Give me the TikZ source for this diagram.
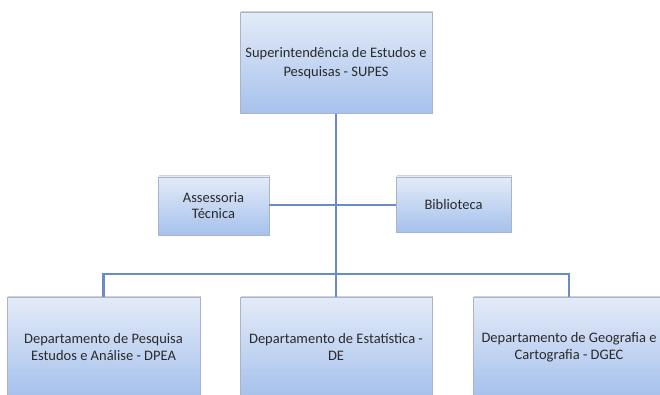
\documentclass[tikz,border=0pt]{standalone}
\usepackage{fontspec}
\setmainfont{Carlito}
\usetikzlibrary{shadows}
\definecolor{boxtop}{HTML}{E3EBF8}
\definecolor{boxbot}{HTML}{A6C1EC}
\definecolor{boxline}{HTML}{A9B4C8}
\definecolor{conn}{HTML}{6A8BC9}
\definecolor{txt}{HTML}{2A2A2A}
\tikzset{
  orgbox/.style={draw=boxline, line width=0.8pt, top color=boxtop, bottom color=boxbot,
    align=center, inner sep=2pt, text=txt, font=\fontsize{14.5}{18.5}\selectfont,
    drop shadow={opacity=0.35, shadow xshift=1.2pt, shadow yshift=1.5pt}},
  link/.style={draw=conn, line width=2.6pt}
}
\begin{document}
\begin{tikzpicture}[x=1pt,y=-1pt]
\useasboundingbox (0,0) rectangle (660,395);
\clip (0,0) rectangle (660,395);
\fill[white] (0,0) rectangle (660,395);
\coordinate (mid) at (336,205);
\coordinate (busl) at (103.5,274);
\coordinate (busr) at (569,274);
\node[orgbox, minimum width=192pt, minimum height=101pt] (supes) at (336,63) {Superintendência de Estudos e\\Pesquisas - SUPES};
\node[orgbox, minimum width=111pt, minimum height=58pt, font=\fontsize{14.5}{16}\selectfont] (asses) at (213.5,206) {Assessoria\\Técnica};
\node[orgbox, minimum width=115pt, minimum height=55pt] (bib) at (453.5,204.5) {Biblioteca};
\node[orgbox, minimum width=193pt, minimum height=100pt, font=\fontsize{14.5}{17}\selectfont] (dpea) at (103.5,347) {Departamento de Pesquisa\\Estudos e Análise - DPEA};
\node[orgbox, minimum width=192pt, minimum height=100pt, font=\fontsize{14.5}{17}\selectfont] (de) at (336,347) {Departamento de Estatística -\\DE};
\node[orgbox, minimum width=192pt, minimum height=100pt, font=\fontsize{14.5}{17}\selectfont] (dgec) at (569,347) {Departamento de Geografia e\\Cartografia - DGEC};
\draw[link] (supes.south) -- (de.north);
\draw[link] (asses.east |- mid) -- (bib.west |- mid);
\draw[link, line join=miter] (dpea.north) -- (busl) -- (busr) -- (dgec.north);
\end{tikzpicture}
\end{document}
